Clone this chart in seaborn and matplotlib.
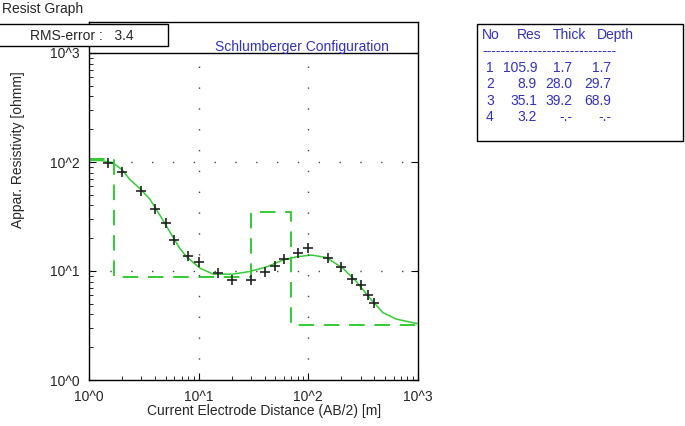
#!/usr/bin/env python3
"""Schlumberger VES resist graph: field data, model curve and layer model."""
import numpy as np
import pandas as pd
import matplotlib
matplotlib.use("Agg")
import matplotlib.pyplot as plt
import seaborn as sns

# field data (AB/2 [m], apparent resistivity [ohmm])
ab2_obs = [1.5, 2, 3, 4, 5, 6, 8, 10, 15, 20, 30, 40, 50, 60, 80, 100,
           150, 200, 250, 300, 350, 400]
rho_obs = [98, 81, 54.3, 37.0, 27.5, 19.2, 13.7, 12.2, 9.55, 8.32, 8.32, 9.75,
           11.1, 12.8, 14.6, 16.1, 13.3, 10.8, 8.43, 7.39, 5.97, 5.11]

# fitted model curve
ab2_fit = [1, 1.3, 1.66, 2.0, 2.36, 2.97, 3.59, 4.43, 5.47, 6.74, 7.76, 10.3,
           13.6, 20.5, 29.3, 41.5, 58.8, 78, 107, 146, 207, 274, 362, 479,
           634, 1000]
rho_fit = [104, 103, 98, 85, 69, 56, 45.6, 32.5, 22.8, 16.1, 13.5, 10.6,
           9.36, 9.36, 9.9, 10.9, 12.6, 13.5, 14.0, 13.3, 10.6, 8.0, 5.67,
           4.15, 3.62, 3.28]

# layer model
layer_no = [1, 2, 3, 4]
layer_res = [105.9, 8.9, 35.1, 3.2]
layer_thick = [1.7, 28.0, 39.2, None]
layer_depth = [1.7, 29.7, 68.9, None]

rms_error = 3.4
tick_vals = [1, 10, 100, 1000]
tick_labels = ["10^0", "10^1", "10^2", "10^3"]

W, H = 685, 426
GREEN = "#33cc33"
BLUE = "#3030c8"
FONT = "Liberation Sans"


def fx(px):
    return px / W


def fy(py):
    return 1 - py / H


sns.set_style("white")
plt.rcParams["font.family"] = [FONT, "DejaVu Sans"]

fig = plt.figure(figsize=(W / 100, H / 100), dpi=100)
ax = fig.add_axes([fx(89), fy(380), fx(418) - fx(89), fy(22) - fy(380)])
ax.set_xscale("log")
ax.set_yscale("log")
ax.set_xlim(1, 1000)
ax.set_ylim(1, 10 ** (358 / 109))

# step model from depths
step_x = [1] + [d for d in layer_depth if d is not None] + [1000]
step_y = layer_res + [layer_res[-1]]
step_df = pd.DataFrame({"x": step_x, "y": step_y})
sns.lineplot(data=step_df, x="x", y="y", ax=ax, color=GREEN, lw=1.4,
             drawstyle="steps-post", estimator=None, sort=False,
             dashes=False, linestyle=(0, (8, 5)))

fit_df = pd.DataFrame({"x": ab2_fit, "y": rho_fit})
sns.lineplot(data=fit_df, x="x", y="y", ax=ax, color=GREEN, lw=1.1,
             estimator=None, sort=False)

obs_df = pd.DataFrame({"x": ab2_obs, "y": rho_obs})
sns.scatterplot(data=obs_df, x="x", y="y", ax=ax, marker="+", s=55,
                color="#222222", linewidth=1.2, zorder=5)

# dotted grid below the 10^3 line only
inner = tick_vals[1:-1]
ax.vlines(inner, 1, 1000, colors="#444444", linestyles=(0, (1, 14)), lw=1)
ax.hlines(inner, 1, 1000, colors="#444444", linestyles=(0, (1, 14)), lw=1)
ax.axhline(1000, color="black", lw=1)

ax.set_xticks(tick_vals)
ax.set_xticklabels(tick_labels)
ax.set_yticks(tick_vals)
ax.set_yticklabels(tick_labels)
ax.tick_params(which="both", direction="in", left=True, bottom=True,
               labelsize=10, pad=7, color="black")
ax.tick_params(which="major", length=5, right=True)
ax.tick_params(which="minor", length=3)
for s in ax.spines.values():
    s.set_color("black")
    s.set_linewidth(1)
ax.set_xlabel("")
ax.set_ylabel("")

ax.text((302 - 89) / 329, (380 - 47) / 358,
        "Schlumberger Configuration", transform=ax.transAxes,
        ha="center", va="center", color=BLUE, fontsize=10)

fig.text(fx(264), fy(411), "Current Electrode Distance (AB/2) [m]",
         ha="center", va="center", fontsize=10)
fig.text(fx(18), fy(150), "Appar. Resistivity [ohmm]", rotation=90,
         ha="center", va="center", fontsize=10)
fig.text(fx(2), fy(9), "Resist Graph", ha="left", va="center", fontsize=10)

# RMS box
fig.patches.append(plt.Rectangle((fx(-2), fy(46)), fx(170), fy(24) - fy(46),
                                 transform=fig.transFigure, facecolor="white",
                                 edgecolor="black", lw=1, zorder=10))
fig.text(fx(82), fy(36), f"RMS-error :   {rms_error}", ha="center",
         va="center", fontsize=10, zorder=11)

# layer table
fig.patches.append(plt.Rectangle((fx(477), fy(141)), fx(683) - fx(477),
                                 fy(24) - fy(141), transform=fig.transFigure,
                                 facecolor="white", edgecolor="black", lw=1))
tk = dict(color=BLUE, fontsize=10, va="center")
fig.text(fx(482), fy(35), "No", ha="left", **tk)
fig.text(fx(517), fy(35), "Res", ha="left", **tk)
fig.text(fx(553), fy(35), "Thick", ha="left", **tk)
fig.text(fx(597), fy(35), "Depth", ha="left", **tk)
fig.text(fx(482), fy(51), "-" * 29, ha="left", **tk)


def fmt(v):
    return "-.-" if v is None else f"{v:.1f}"


for i, n in enumerate(layer_no):
    py = 68 + 16.3 * i
    fig.text(fx(490), fy(py), str(n), ha="center", **tk)
    fig.text(fx(537), fy(py), fmt(layer_res[i]), ha="right", **tk)
    fig.text(fx(572), fy(py), fmt(layer_thick[i]), ha="right", **tk)
    fig.text(fx(611), fy(py), fmt(layer_depth[i]), ha="right", **tk)

fig.savefig("out.png", dpi=100)
plt.close(fig)
